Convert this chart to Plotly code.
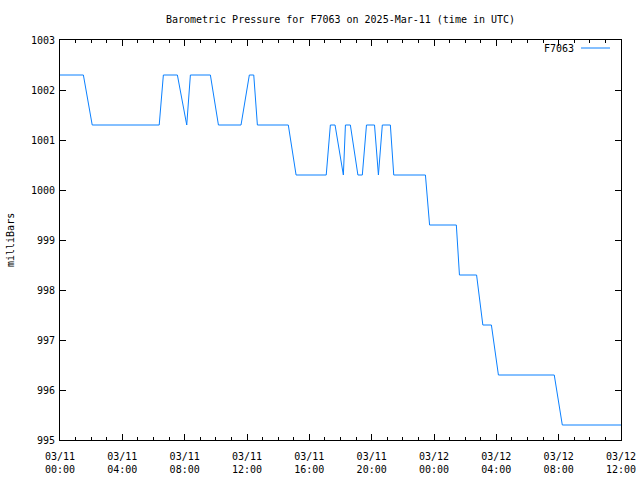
import plotly.graph_objects as go

series_name = "F7063"
times = [
    "2025-03-11 00:00", "2025-03-11 01:30", "2025-03-11 02:04", "2025-03-11 06:22",
    "2025-03-11 06:38", "2025-03-11 07:32", "2025-03-11 08:08", "2025-03-11 08:22",
    "2025-03-11 09:39", "2025-03-11 10:10", "2025-03-11 11:37", "2025-03-11 12:09",
    "2025-03-11 12:26", "2025-03-11 12:40", "2025-03-11 14:39", "2025-03-11 15:09",
    "2025-03-11 17:05", "2025-03-11 17:21", "2025-03-11 17:39", "2025-03-11 18:11",
    "2025-03-11 18:19", "2025-03-11 18:38", "2025-03-11 19:07", "2025-03-11 19:24",
    "2025-03-11 19:40", "2025-03-11 20:11", "2025-03-11 20:26", "2025-03-11 20:41",
    "2025-03-11 21:12", "2025-03-11 21:25", "2025-03-11 23:27", "2025-03-11 23:43",
    "2025-03-12 01:26", "2025-03-12 01:38", "2025-03-12 02:44", "2025-03-12 03:08",
    "2025-03-12 03:41", "2025-03-12 04:08", "2025-03-12 07:43", "2025-03-12 08:14",
    "2025-03-12 12:00",
]
pressure = [
    1002.3, 1002.3, 1001.3, 1001.3,
    1002.3, 1002.3, 1001.3, 1002.3,
    1002.3, 1001.3, 1001.3, 1002.3,
    1002.3, 1001.3, 1001.3, 1000.3,
    1000.3, 1001.3, 1001.3, 1000.3,
    1001.3, 1001.3, 1000.3, 1000.3,
    1001.3, 1001.3, 1000.3, 1001.3,
    1001.3, 1000.3, 1000.3, 999.3,
    999.3, 998.3, 998.3, 997.3,
    997.3, 996.3, 996.3, 995.3,
    995.3,
]
x_tick_vals = ["2025-03-11 00:00", "2025-03-11 04:00", "2025-03-11 08:00", "2025-03-11 12:00",
               "2025-03-11 16:00", "2025-03-11 20:00", "2025-03-12 00:00", "2025-03-12 04:00",
               "2025-03-12 08:00", "2025-03-12 12:00"]
x_tick_text = ["03/11<br>00:00", "03/11<br>04:00", "03/11<br>08:00", "03/11<br>12:00",
               "03/11<br>16:00", "03/11<br>20:00", "03/12<br>00:00", "03/12<br>04:00",
               "03/12<br>08:00", "03/12<br>12:00"]
y_tick_vals = [995, 996, 997, 998, 999, 1000, 1001, 1002, 1003]

LINE = "#0a80ff"
FONT = dict(family="DejaVu Sans Mono", size=10, color="black")

fig = go.Figure()
fig.add_trace(go.Scatter(x=times, y=pressure, mode="lines", name=series_name,
                         line=dict(color=LINE, width=1), showlegend=False))

fig.update_layout(
    width=640, height=480,
    margin=dict(l=60, r=19, t=40, b=40, autoexpand=False),
    paper_bgcolor="white", plot_bgcolor="white",
    font=FONT,
    title=dict(text="Barometric Pressure for F7063 on 2025-Mar-11 (time in UTC)",
               x=(60 + 621) / 2 / 640, xanchor="center", y=1 - 19 / 480, yanchor="middle",
               font=FONT),
)
fig.update_xaxes(
    type="date", range=["2025-03-11 00:00", "2025-03-12 12:00"],
    tickmode="array", tickvals=x_tick_vals, ticktext=x_tick_text,
    ticks="inside", ticklen=6, tickwidth=1, tickcolor="black",
    showline=True, linecolor="black", linewidth=1, mirror="ticks",
    showgrid=False, zeroline=False, tickfont=FONT, automargin=False,
    ticklabelstandoff=7,
    minor=dict(ticks="inside", ticklen=3, tickcolor="black", dtick=3600000,
               tick0="2025-03-11 00:00", showgrid=False),
)
fig.update_yaxes(
    range=[995, 1003], tickmode="array", tickvals=y_tick_vals,
    ticks="inside", ticklen=6, tickwidth=1, tickcolor="black",
    showline=True, linecolor="black", linewidth=1, mirror="ticks",
    showgrid=False, zeroline=False, tickfont=FONT, automargin=False,
    ticklabelstandoff=2,
)
fig.add_annotation(text="milliBars", xref="paper", yref="paper",
                   x=(10 - 60) / 561, y=0.5, textangle=-90, showarrow=False,
                   xanchor="center", yanchor="middle", font=FONT)
fig.add_annotation(text=series_name, xref="paper", yref="paper",
                   x=(576 - 60) / 561, y=(440 - 49) / 400, showarrow=False,
                   xanchor="right", yanchor="middle", font=FONT)
fig.add_shape(type="line", xref="paper", yref="paper",
              x0=(581 - 60) / 561, x1=(610 - 60) / 561,
              y0=(440 - 48) / 400, y1=(440 - 48) / 400,
              line=dict(color=LINE, width=1))

fig.write_html("out.html")
